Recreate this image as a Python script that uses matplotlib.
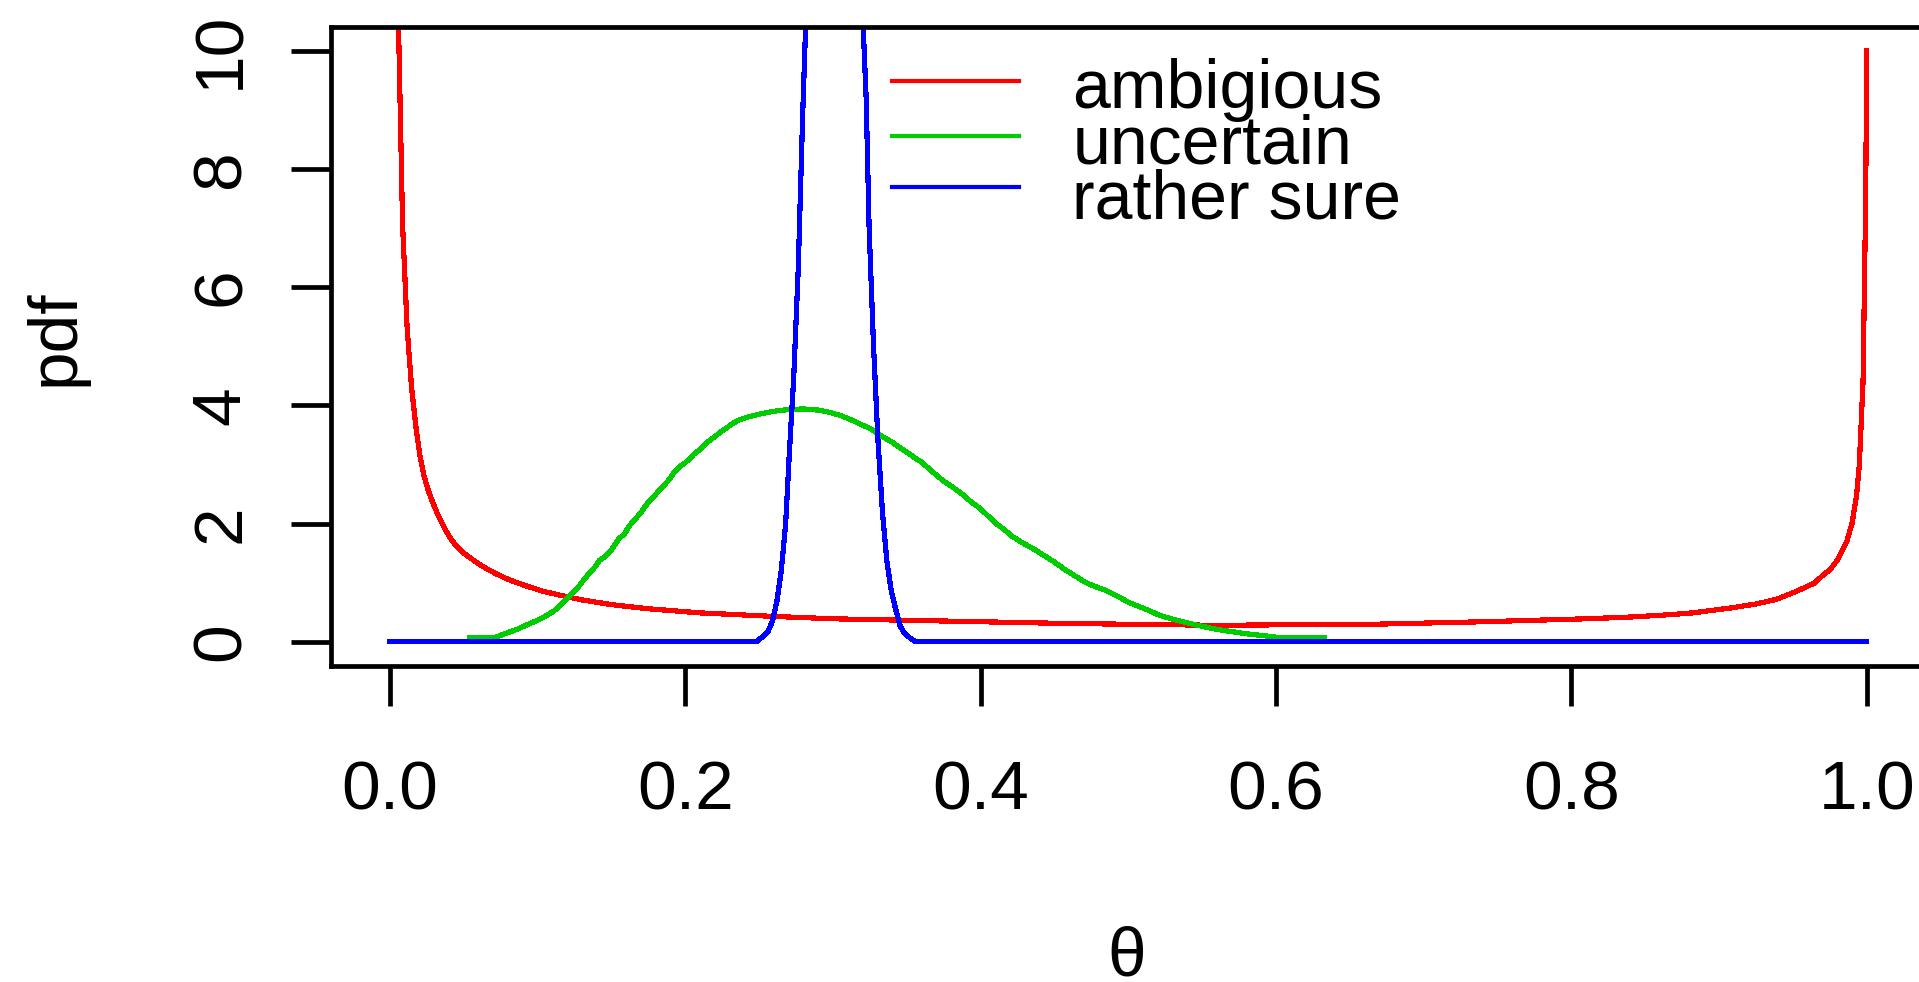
import matplotlib
matplotlib.use("Agg")
import matplotlib.pyplot as plt
from matplotlib.lines import Line2D

plt.rcParams['font.family'] = ['Liberation Sans', 'DejaVu Sans']

# ---------------- data ----------------
red_x = [0.0057, 0.0086, 0.0117, 0.0147, 0.0176, 0.0203, 0.023, 0.026, 0.029, 0.032,
         0.035, 0.038, 0.041, 0.045, 0.050, 0.055, 0.060, 0.066, 0.072, 0.078,
         0.085, 0.093, 0.103, 0.115, 0.130, 0.150, 0.175, 0.21, 0.26, 0.30,
         0.38, 0.46, 0.56, 0.67, 0.74, 0.81, 0.84, 0.867, 0.882, 0.907,
         0.925, 0.939, 0.95, 0.960, 0.965, 0.970, 0.9755, 0.980, 0.9835, 0.9865,
         0.990, 0.993, 0.995, 0.9975, 0.9993, 1.0]
red_y = [10.6, 7.06, 5.3, 4.3, 3.64, 3.16, 2.82, 2.56, 2.36, 2.18,
         2.02, 1.88, 1.75, 1.62, 1.5, 1.41, 1.32, 1.23, 1.15, 1.08,
         1.01, 0.94, 0.86, 0.79, 0.71, 0.63, 0.56, 0.49, 0.43, 0.39,
         0.35, 0.31, 0.28, 0.30, 0.34, 0.39, 0.42, 0.46, 0.49, 0.57,
         0.64, 0.72, 0.83, 0.94, 1.0, 1.12, 1.23, 1.38, 1.55, 1.7,
         2.0, 2.45, 3.0, 4.4, 7.5, 10.0]

green_x = [0.054, 0.072, 0.078, 0.086, 0.093, 0.0995, 0.105, 0.111, 0.1145, 0.118,
           0.121, 0.125, 0.128, 0.131, 0.135, 0.139, 0.142, 0.146, 0.149, 0.152,
           0.155, 0.159, 0.162, 0.166, 0.170, 0.174, 0.178, 0.182, 0.186, 0.189,
           0.192, 0.196, 0.200, 0.203, 0.206, 0.210, 0.214, 0.219, 0.224, 0.228,
           0.232, 0.236, 0.242, 0.250, 0.260, 0.270, 0.280, 0.290, 0.298, 0.305,
           0.312, 0.318, 0.325, 0.330, 0.335, 0.340, 0.345, 0.350, 0.355, 0.360,
           0.365, 0.370, 0.376, 0.382, 0.388, 0.393, 0.400, 0.405, 0.410, 0.416,
           0.421, 0.428, 0.436, 0.443, 0.450, 0.456, 0.463, 0.470, 0.476, 0.485,
           0.493, 0.500, 0.507, 0.514, 0.521, 0.532, 0.545, 0.560, 0.579, 0.600,
           0.633]
green_y = [0.07, 0.08, 0.14, 0.21, 0.29, 0.36, 0.43, 0.52, 0.6, 0.68,
           0.76, 0.86, 0.94, 1.04, 1.16, 1.27, 1.38, 1.45, 1.52, 1.63,
           1.74, 1.83, 1.96, 2.07, 2.19, 2.33, 2.44, 2.55, 2.66, 2.74,
           2.85, 2.96, 3.03, 3.1, 3.18, 3.25, 3.36, 3.45, 3.55, 3.62,
           3.69, 3.75, 3.80, 3.85, 3.90, 3.93, 3.94, 3.92, 3.88, 3.83,
           3.76, 3.69, 3.61, 3.53, 3.45, 3.38, 3.29, 3.21, 3.12, 3.04,
           2.93, 2.82, 2.7, 2.6, 2.49, 2.38, 2.25, 2.13, 2.01, 1.9,
           1.79, 1.68, 1.57, 1.46, 1.35, 1.24, 1.13, 1.02, 0.95, 0.87,
           0.77, 0.67, 0.6, 0.53, 0.45, 0.37, 0.29, 0.21, 0.14, 0.08,
           0.066]

blue_x = [0.0, 0.248, 0.252, 0.256, 0.259, 0.262, 0.265, 0.268, 0.2705, 0.2735,
          0.2765, 0.2795, 0.2815, 0.300, 0.3205, 0.3225, 0.3245, 0.3275, 0.3305, 0.3335,
          0.3365, 0.3395, 0.3425, 0.3455, 0.3485, 0.352, 0.356, 1.0]
blue_y = [0.0, 0.0, 0.08, 0.17, 0.35, 0.68, 1.2, 2.0, 3.2, 4.5,
          6.3, 8.9, 10.4, 27.5, 10.4, 9.2, 7.0, 5.0, 3.4, 2.2,
          1.37, 0.86, 0.55, 0.27, 0.14, 0.07, 0.0, 0.0]

series_labels = ["ambigious", "uncertain", "rather sure"]
series_colors = ["#FF0000", "#00CD00", "#0000FF"]
x_ticks = [0.0, 0.2, 0.4, 0.6, 0.8, 1.0]
x_ticklabels = ["0.0", "0.2", "0.4", "0.6", "0.8", "1.0"]
y_ticks = [0, 2, 4, 6, 8, 10]
y_ticklabels = ["0", "2", "4", "6", "8", "10"]

# ---------------- figure ----------------
W, H = 1919, 982
fig = plt.figure(figsize=(W / 100, H / 100), dpi=100)
fig.patch.set_facecolor("white")

left_px, right_px, top_px, bot_px = 330.8, 1925.8, 27.0, 665.5
ax = fig.add_axes([left_px / W, 1 - bot_px / H, (right_px - left_px) / W, (bot_px - top_px) / H])
ax.set_xlim(-0.04, 1.04)
ax.set_ylim(-0.4, 10.4)

LW = 3.0
for xs, ys, c in zip([red_x, green_x, blue_x], [red_y, green_y, blue_y], series_colors):
    ax.plot(xs, ys, color=c, lw=LW, solid_joinstyle="miter", antialiased=False)

for s in ax.spines.values():
    s.set_linewidth(3.4)

ax.set_xticks(x_ticks)
ax.set_xticklabels(x_ticklabels)
ax.set_yticks(y_ticks)
ax.set_yticklabels(y_ticklabels)
ax.tick_params(axis="both", direction="out", length=29, width=3.4, labelsize=50)
ax.tick_params(axis="x", pad=38.5)
ax.tick_params(axis="y", pad=26.5)
for lbl in ax.get_yticklabels():
    lbl.set_rotation(90)
    lbl.set_va("center")

# axis titles
fig.text(56 / W, 1 - 338 / H, "pdf", rotation=90, ha="center", va="center", fontsize=50)
fig.text(1127 / W, 1 - 975 / H, "θ", ha="center", va="baseline", fontsize=50)

# legend (no box), drawn like R's legend
line_y = [80.7, 136.0, 186.7]
text_base = [108.3, 163.3, 218.3]
for lab, c, ly, tb in zip(series_labels, series_colors, line_y, text_base):
    fig.add_artist(Line2D([892 / W, 1019 / W], [1 - ly / H, 1 - ly / H], color=c, lw=LW,
                          transform=fig.transFigure))
    fig.text(1072.5 / W, 1 - tb / H, lab, ha="left", va="baseline", fontsize=49)

fig.savefig("out.png", dpi=100, facecolor="white")
